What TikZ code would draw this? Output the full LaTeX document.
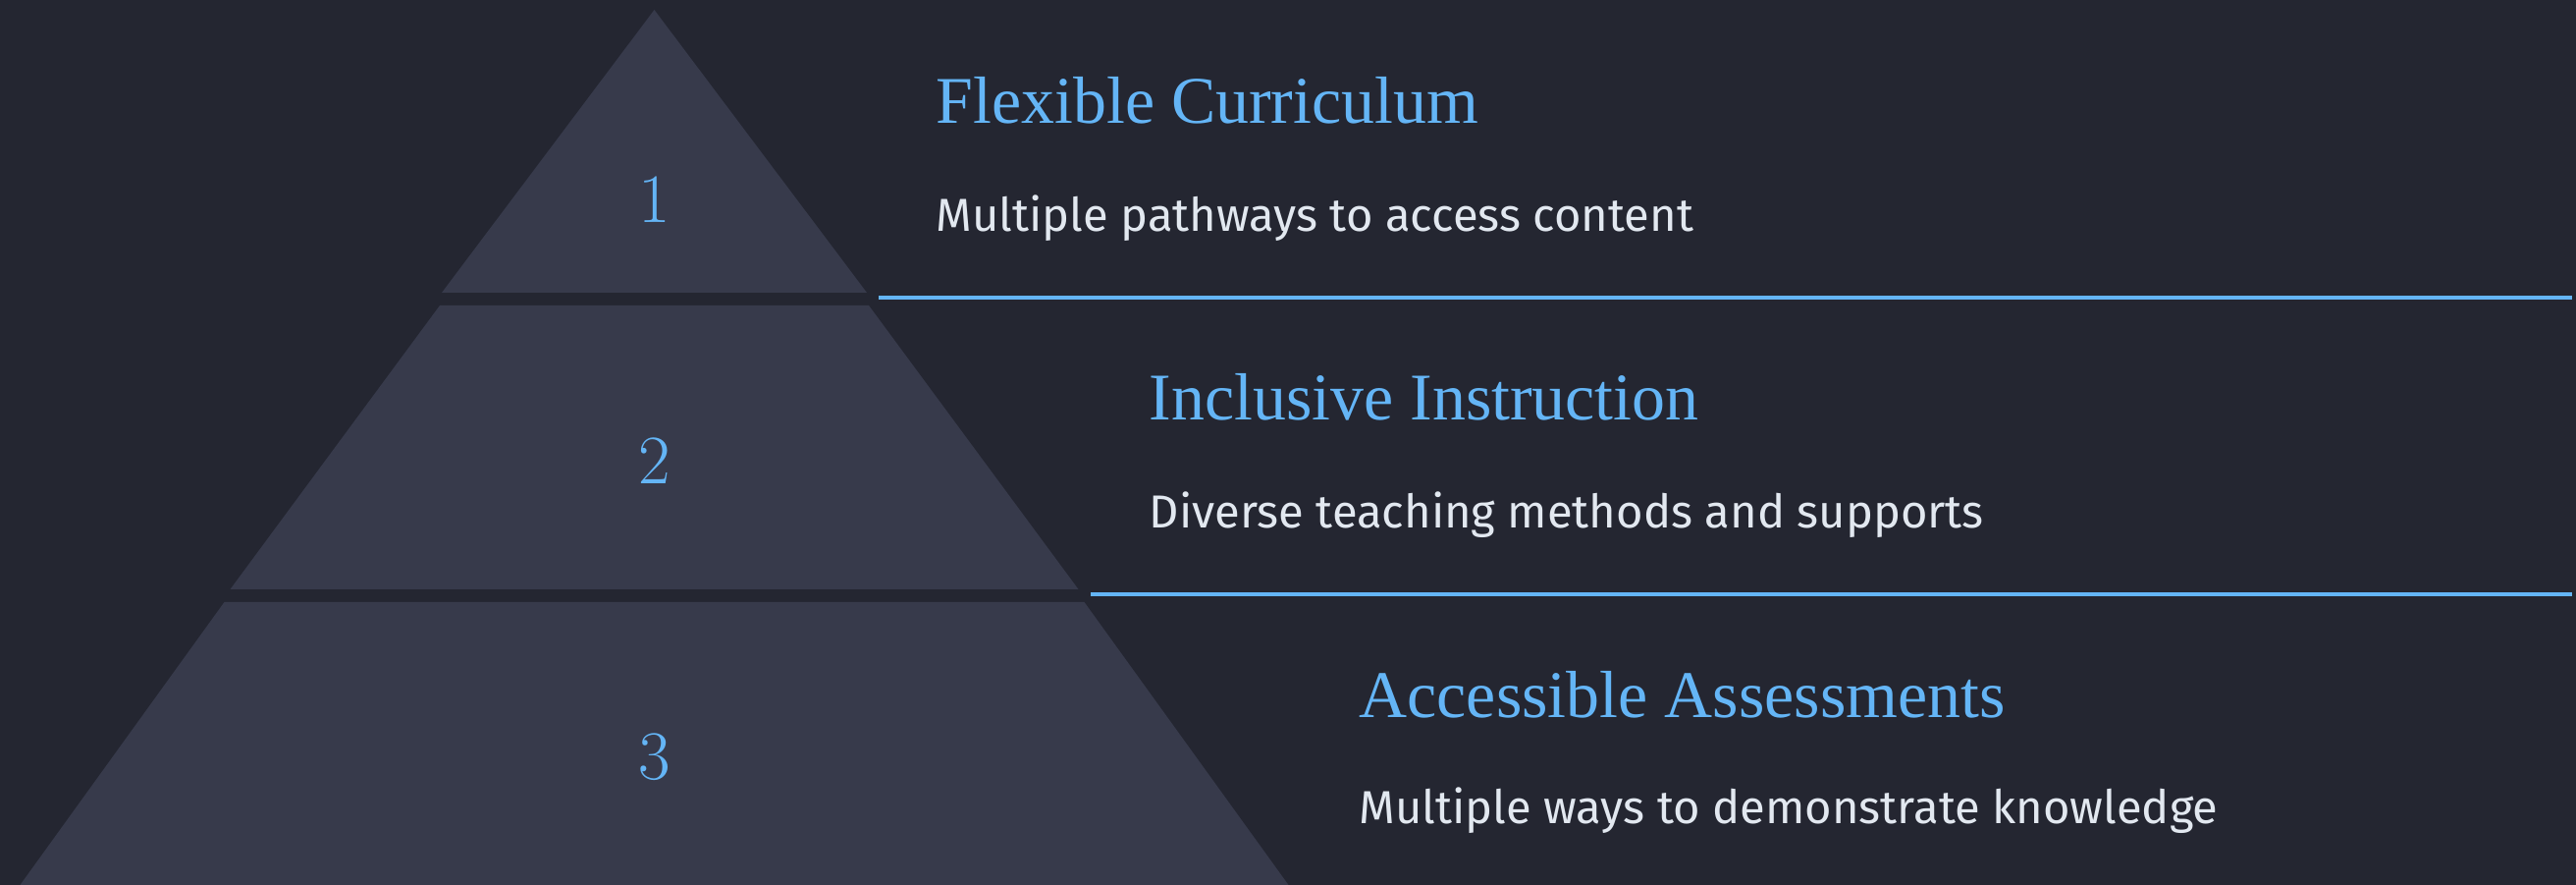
\documentclass[tikz,border=0pt]{standalone}
\usepackage{fontspec}
\newfontfamily\titlefont{Liberation Serif}
\newfontfamily\descfont{Fira Sans}
\usetikzlibrary{positioning}

\definecolor{bgdark}{HTML}{242631}
\definecolor{tierfill}{HTML}{373A4B}
\definecolor{accent}{HTML}{64B5F6}
\definecolor{desctext}{HTML}{E2E8F0}

\begin{document}
\begin{tikzpicture}[x=0.01cm, y=-0.01cm,
			tier/.style={fill=tierfill, draw=none},
			num/.style={text=accent, inner sep=0pt,
				font=\fontsize{20.1pt}{24pt}\selectfont},
			title/.style={anchor=base west, inner sep=0pt, text=accent,
				font=\titlefont\fontsize{19.3pt}{23pt}\selectfont},
			desc/.style={anchor=base west, inner sep=0pt, text=desctext,
				font=\descfont\fontsize{13.4pt}{16pt}\selectfont},
			sep/.style={draw=accent, line width=0.04cm}]
			
			% Background
			\fill[bgdark] (0,0) rectangle (2624,901);
			\useasboundingbox (0,0) rectangle (2624,901);
			
			% Pyramid tiers
			\fill[tier] (666.5,10) -- (883,298) -- (450,298) -- cycle;
			\fill[tier] (448,311) -- (885,311) -- (1098.5,600) -- (234.5,600) -- cycle;
			\fill[tier] (228.5,613) -- (1104.5,613) -- (1312.5,901) -- (20.5,901) -- cycle;
			
			% Tier numbers
			\node[num] (N1) at (666.5,203) {1};
			\node[num] (N2) at (666.5,469) {2};
			\node[num] (N3) at (666.5,771) {3};
			
			% Flexible Curriculum
			\node[title] (T1) at (953,126) {Flexible Curriculum};
			\node[desc] (D1) at (953,236) {Multiple pathways to access content};
			\draw[sep] (895,303) -- (2620,303);
			
			% Inclusive Instruction
			\node[title] (T2) at (1170,428) {Inclusive Instruction};
			\node[desc] (D2) at (1170,538) {Diverse teaching methods and supports};
			\draw[sep] (1111,605) -- (2620,605);
			
			% Accessible Assessments
			\node[title] (T3) at (1384,731) {Accessible Assessments};
			\node[desc] (D3) at (1384,839) {Multiple ways to demonstrate knowledge};
		\end{tikzpicture}
\end{document}
